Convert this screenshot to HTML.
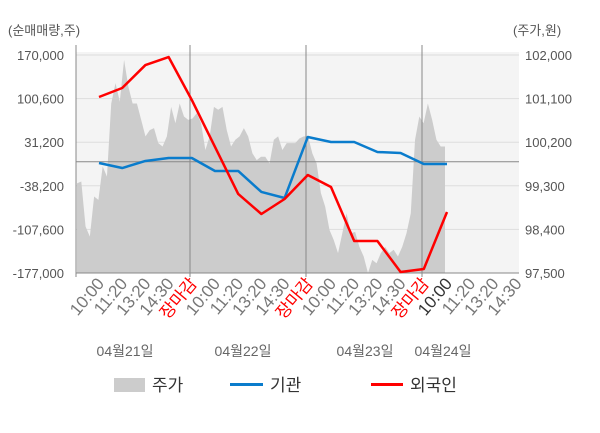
<!DOCTYPE html>
<html><head><meta charset="utf-8"><style>
body{margin:0;background:#fff;}
svg text{font-family:"Liberation Sans","Noto Sans CJK KR",sans-serif;}
</style></head><body>
<svg id="c" width="600" height="428" xmlns="http://www.w3.org/2000/svg">
<text x="8" y="35" font-size="13" fill="#555">(순매매량,주)</text>
<text x="513" y="35" font-size="13" fill="#555">(주가,원)</text>
<g>
<rect x="114" y="378" width="31" height="14" fill="#cccccc"/>
<text x="152" y="391" font-size="17" fill="#333">주가</text>
<rect x="230" y="383" width="33" height="3" fill="#0a7ccc"/>
<text x="270" y="391" font-size="17" fill="#333">기관</text>
<rect x="371" y="383" width="32" height="3" fill="#ff0000"/>
<text x="410" y="391" font-size="17" fill="#333">외국인</text>
</g>
</svg>
<script>
const leftTicks=[170000,100600,31200,-38200,-107600,-177000];
const leftTickLabels=["170,000","100,600","31,200","-38,200","-107,600","-177,000"];
const rightTicks=[102000,101100,100200,99300,98400,97500];
const rightTickLabels=["102,000","101,100","100,200","99,300","98,400","97,500"];
const timeLabels=["10:00","11:20","13:20","14:30","장마감","10:00","11:20","13:20","14:30","장마감","10:00","11:20","13:20","14:30","장마감","10:00","11:20","13:20","14:30"];
const dateLabels=["04월21일","04월22일","04월23일","04월24일"];
const foreign=[103150,117500,154000,166800,98400,23600,-51200,-83100,-59200,-21000,-40100,-126000,-126000,-175400,-170600,-79900];
const inst=[-1900,-9900,1300,6050,6050,-14600,-14600,-48000,-57600,39500,31500,31500,15600,14000,-3500,-3500];
const price=[99350,99390,98460,98250,99080,99010,99700,99490,101000,101420,101040,101900,101350,101000,101000,100660,100320,100450,100490,100180,100110,100320,100930,100590,101000,100730,100660,100690,100800,100590,100040,100320,100930,100870,100930,100450,100110,100250,100320,100490,100320,99970,99830,99900,99900,99760,100250,100320,100040,100180,100180,100180,100280,100320,100320,99970,99760,99150,98870,98390,98180,97910,98320,98730,98320,98350,98040,97840,97500,97770,97700,97910,98040,97910,97980,97840,98040,98320,98730,100250,100730,100590,101000,100660,100250,100110,100110];
const NS="http://www.w3.org/2000/svg";
const svg=document.getElementById('c');
const X0=76,X1=519,Y0=55,Y1=273;
const yL=v=>Y0+(170000-v)/(170000+177000)*(Y1-Y0);
const yR=v=>Y0+(102000-v)/(102000-97500)*(Y1-Y0);
const xCat=i=>99+23.2*i;
const xPrice=i=>77+i*(445-77)/(price.length-1);
function el(t,a){const e=document.createElementNS(NS,t);for(const k in a)e.setAttribute(k,a[k]);svg.appendChild(e);return e;}
let bg=el('rect',{x:X0,y:52,width:X1-X0,height:Y1-52,fill:'#f4f4f4'});


leftTicks.forEach((v,i)=>{
 const g=el('line',{x1:X0,x2:X1,y1:yL(v),y2:yL(v),stroke:'#dddddd','stroke-width':1});
 
 
 const t=el('text',{x:64,y:yL(v)+5,'font-size':13,fill:'#555','text-anchor':'end'});
 t.textContent=leftTickLabels[i];
 
 
});
rightTicks.forEach((v,i)=>{
 const t=el('text',{x:525,y:yR(v)+5,'font-size':13,fill:'#555'});
 t.textContent=rightTickLabels[i];
 
 
});
let pts=[[xPrice(0),Y1]];
price.forEach((v,i)=>pts.push([xPrice(i),yR(v)]));
pts.push([xPrice(price.length-1),Y1]);
const area=el('polygon',{points:pts.map(p=>p.join(',')).join(' '),fill:'#cccccc'});


[X0,190,306,422].forEach(x=>{
 const l=el('line',{x1:x,x2:x,y1:45,y2:Y1+4,stroke:'#888','stroke-width':1});
 
 
});
const z=el('line',{x1:X0,x2:X1,y1:yL(0),y2:yL(0),stroke:'#888','stroke-width':1});


const ax=el('line',{x1:X0,x2:X1,y1:Y1,y2:Y1,stroke:'#888','stroke-width':1});


function line(arr,color,name){
 const p=el('polyline',{points:arr.map((v,i)=>xCat(i)+','+yL(v)).join(' '),fill:'none',stroke:color,'stroke-width':2.5,'stroke-linejoin':'round'});
 
 
}
line(inst,'#0a7ccc','institution-line');
line(foreign,'#ff0000','foreign-line');
timeLabels.forEach((s,i)=>{
 const x=xCat(i)+6,y=284;
 const t=el('text',{x:x,y:y,'font-size':17,'text-anchor':'end',fill:s==='장마감'?'#ff0000':(i===15?'#333':'#777'),transform:`rotate(-50 ${x} ${y})`});
 t.textContent=s;
 
 
});
const dx=[125,243,365,443];
dateLabels.forEach((s,i)=>{
 const t=el('text',{x:dx[i],y:356,'font-size':14,'text-anchor':'middle',fill:'#666'});
 t.textContent=s;
 
 
});
</script>
</body></html>
